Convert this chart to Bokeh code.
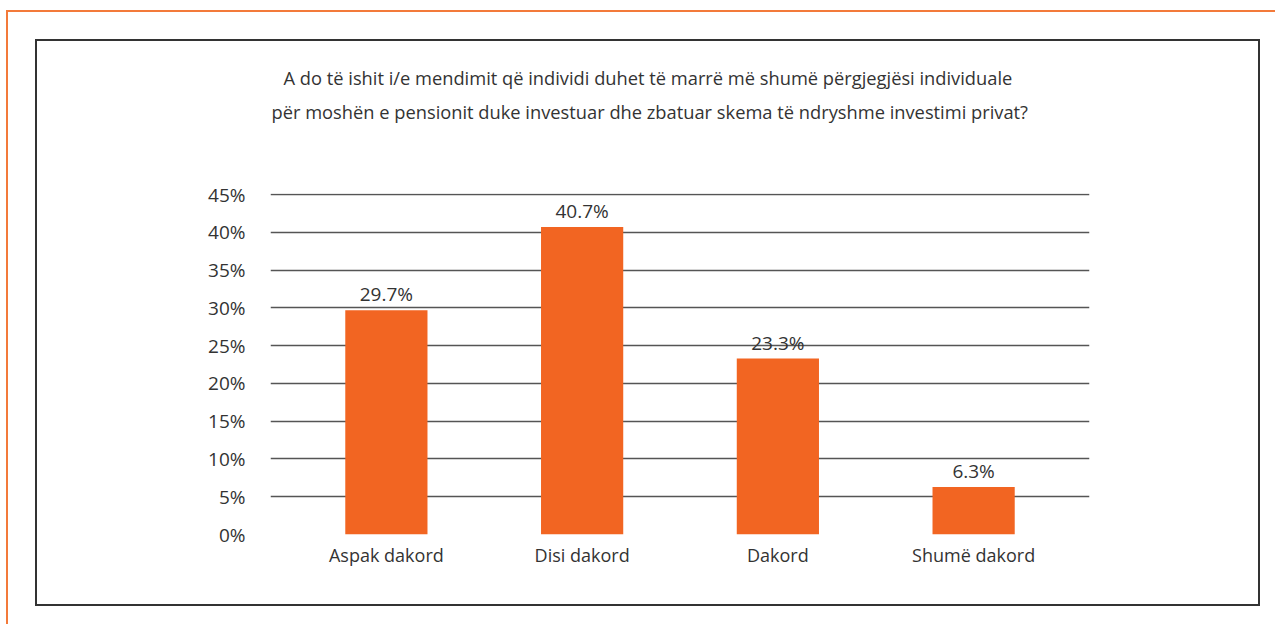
from bokeh.plotting import figure
from bokeh.layouts import column
from bokeh.models import (ColumnDataSource, FactorRange, Range1d, FixedTicker,
                          PrintfTickFormatter, LabelSet, Title)
from bokeh.core.properties import value
from bokeh.embed import file_html
from bokeh.resources import INLINE

categories = ["Aspak dakord", "Disi dakord", "Dakord", "Shumë dakord"]
values = [29.7, 40.7, 23.3, 6.3]
value_labels = ["29.7%", "40.7%", "23.3%", "6.3%"]
y_ticks = [0, 5, 10, 15, 20, 25, 30, 35, 40, 45]
title_lines = [
    "A do të ishit i/e mendimit që individi duhet të marrë më shumë përgjegjësi individuale",
    "për moshën e pensionit duke investuar dhe zbatuar skema të ndryshme investimi privat?",
]

FONT = "Open Sans"
TXT = "#333333"
ORANGE = "#F26522"

src = ColumnDataSource(dict(cat=categories, val=values, lab=value_labels))

W, H = 1225, 567
p = figure(width=W, height=H, output_backend="svg", toolbar_location=None, title=None,
           x_range=FactorRange(factors=categories, range_padding=0.046),
           y_range=Range1d(0, 45.15),
           min_border_left=233, min_border_right=173,
           min_border_top=152, min_border_bottom=74,
           styles={"border": "2px solid #333333"})
p.outline_line_color = None
p.background_fill_color = "white"
p.border_fill_color = "white"

p.vbar(x="cat", top="val", width=0.42, source=src, fill_color=ORANGE, line_color=None)

p.xgrid.grid_line_color = None
p.ygrid.grid_line_color = "#555555"
p.ygrid.grid_line_width = 1.3
p.ygrid.ticker = FixedTicker(ticks=y_ticks)

p.yaxis.ticker = FixedTicker(ticks=y_ticks)
p.yaxis.formatter = PrintfTickFormatter(format="%d%%")
for ax in (p.xaxis[0], p.yaxis[0]):
    ax.axis_line_color = None
    ax.major_tick_line_color = None
    ax.minor_tick_line_color = None
    ax.major_label_text_font = FONT
    ax.major_label_text_color = TXT
p.yaxis.major_label_text_font_size = "19px"
p.xaxis.major_label_text_font_size = "18px"
p.yaxis.major_label_standoff = 19
p.xaxis.major_label_standoff = 2

labels = LabelSet(x="cat", y="val", text="lab", source=src, y_offset=3,
                  text_align="center", text_baseline="bottom",
                  text_font=value(FONT), text_font_size=value("19px"), text_color=TXT)
p.add_layout(labels)

# spacer between the frame and the title block
p.add_layout(Title(text=" ", standoff=63, text_font_size="1px"), "above")
# title lines: inner (line 2) first, outer (line 1) last
offsets = [1, 13]
for t, off in zip(reversed(title_lines), offsets):
    p.add_layout(Title(text=t, align="left", offset=off, standoff=6.5,
                       text_font=FONT, text_font_size="18.3px",
                       text_font_style="normal", text_color=TXT), "above")

outer = column(p, styles={"border-top": "2px solid #F37A3A",
                          "border-left": "2px solid #F37A3A",
                          "margin-left": "6px", "margin-top": "10px",
                          "padding-left": "27px", "padding-top": "27px",
                          "padding-right": "15px", "padding-bottom": "18px"})

open("out.html", "w").write(file_html(outer, INLINE))
